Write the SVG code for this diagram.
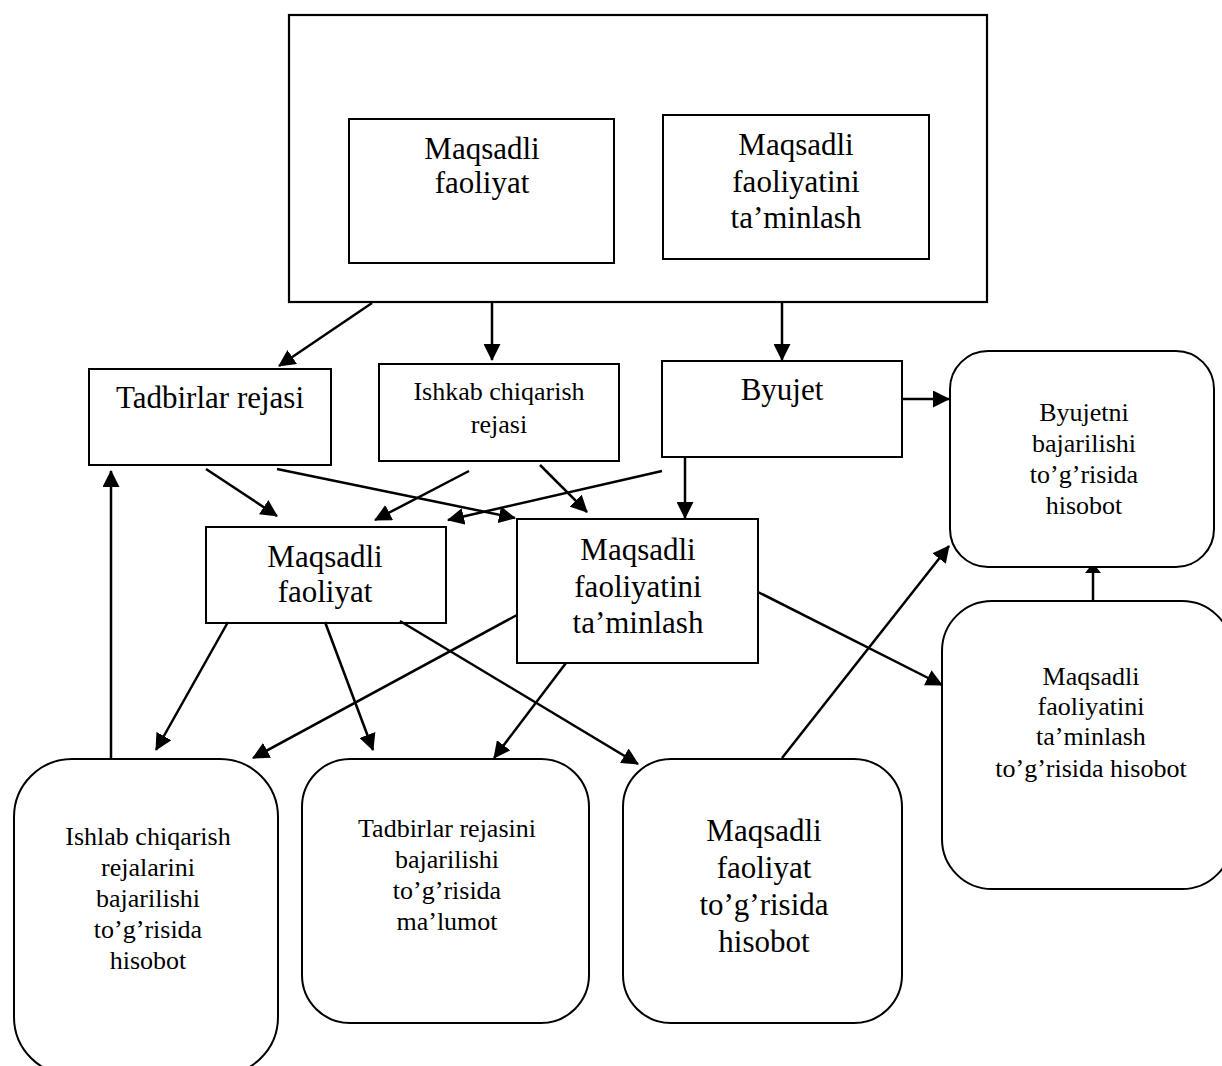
<svg xmlns="http://www.w3.org/2000/svg" width="1222" height="1066" viewBox="0 0 1222 1066">
  <defs>
    <marker id="arrow" viewBox="0 0 17 17" refX="16" refY="8.5" markerWidth="17" markerHeight="17" markerUnits="userSpaceOnUse" orient="auto">
      <path d="M0,0 L17,8.5 L0,17 z" fill="#000"/>
    </marker>
    <marker id="arrow-flat" viewBox="0 0 5 16" refX="5" refY="8" markerWidth="5" markerHeight="16" markerUnits="userSpaceOnUse" orient="auto">
      <path d="M0,0 L5,4 L5,12 L0,16 z" fill="#000"/>
    </marker>
  </defs>
  <style>
    .box { fill: #fff; stroke: #000; stroke-width: 2; }
    .frame { fill: none; stroke: #000; stroke-width: 2.2; }
    .edge { fill: none; stroke: #000; stroke-width: 2.5; marker-end: url(#arrow); }
    .edge-flat { fill: none; stroke: #000; stroke-width: 2.5; marker-end: url(#arrow-flat); }
    text { font-family: "Liberation Serif", "Times New Roman", serif; fill: #000; text-anchor: middle; }
    .lg { font-size: 31px; }
    .sm { font-size: 26px; }
  </style>
  <rect x="0" y="0" width="1222" height="1066" fill="#fff"/>

  <!-- outer frame with the two core activities -->
  <g id="core">
    <rect class="frame" x="289" y="15" width="698" height="287"/>
  </g>
  <g id="core-activity">
    <rect class="box" x="349" y="119" width="265" height="144"/>
    <text class="lg" x="482" y="159">Maqsadli</text>
    <text class="lg" x="482" y="193">faoliyat</text>
  </g>
  <g id="core-support">
    <rect class="box" x="663" y="115" width="266" height="144"/>
    <text class="lg" x="796" y="155">Maqsadli</text>
    <text class="lg" x="796" y="192">faoliyatini</text>
    <text class="lg" x="796" y="228">ta’minlash</text>
  </g>

  <!-- plans -->
  <g id="events-plan">
    <rect class="box" x="89" y="369" width="242" height="96"/>
    <text class="lg" x="210" y="408">Tadbirlar rejasi</text>
  </g>
  <g id="production-plan">
    <rect class="box" x="379" y="364" width="240" height="97"/>
    <text class="sm" x="499" y="400">Ishkab chiqarish</text>
    <text class="sm" x="499" y="433">rejasi</text>
  </g>
  <g id="budget">
    <rect class="box" x="662" y="361" width="240" height="96"/>
    <text class="lg" x="782" y="400">Byujet</text>
  </g>

  <!-- activities -->
  <g id="activity">
    <rect class="box" x="206" y="527" width="240" height="96"/>
    <text class="lg" x="325" y="567">Maqsadli</text>
    <text class="lg" x="325" y="602">faoliyat</text>
  </g>
  <g id="support">
    <rect class="box" x="517" y="519" width="241" height="144"/>
    <text class="lg" x="638" y="560">Maqsadli</text>
    <text class="lg" x="638" y="597">faoliyatini</text>
    <text class="lg" x="638" y="633">ta’minlash</text>
  </g>

  <!-- reports -->
  <g id="budget-report">
    <rect class="box" x="950" y="351" width="264" height="216" rx="38" ry="38"/>
    <text class="sm" x="1084" y="421">Byujetni</text>
    <text class="sm" x="1084" y="452">bajarilishi</text>
    <text class="sm" x="1084" y="483">to’g’risida</text>
    <text class="sm" x="1084" y="514">hisobot</text>
  </g>
  <g id="support-report">
    <rect class="box" x="942" y="601" width="290" height="288" rx="50" ry="50"/>
    <text class="sm" x="1091" y="685">Maqsadli</text>
    <text class="sm" x="1091" y="715">faoliyatini</text>
    <text class="sm" x="1091" y="745">ta’minlash</text>
    <text class="sm" x="1091" y="777">to’g’risida hisobot</text>
  </g>
  <g id="production-report">
    <rect class="box" x="14" y="759" width="264" height="316" rx="58" ry="58"/>
    <text class="sm" x="148" y="845">Ishlab chiqarish</text>
    <text class="sm" x="148" y="876">rejalarini</text>
    <text class="sm" x="148" y="907">bajarilishi</text>
    <text class="sm" x="148" y="938">to’g’risida</text>
    <text class="sm" x="148" y="969">hisobot</text>
  </g>
  <g id="events-report">
    <rect class="box" x="302" y="759" width="287" height="264" rx="48" ry="48"/>
    <text class="sm" x="447" y="837">Tadbirlar rejasini</text>
    <text class="sm" x="447" y="868">bajarilishi</text>
    <text class="sm" x="447" y="899">to’g’risida</text>
    <text class="sm" x="447" y="930">ma’lumot</text>
  </g>
  <g id="activity-report">
    <rect class="box" x="623" y="759" width="279" height="264" rx="48" ry="48"/>
    <text class="lg" x="764" y="841">Maqsadli</text>
    <text class="lg" x="764" y="878">faoliyat</text>
    <text class="lg" x="764" y="915">to’g’risida</text>
    <text class="lg" x="764" y="952">hisobot</text>
  </g>

  <!-- connectors -->
  <g id="connectors">
    <path class="edge" d="M372,303 L279,366"/>
    <path class="edge" d="M492,303 L492,360"/>
    <path class="edge" d="M782,303 L782,360"/>
    <path class="edge" d="M902,399 L949,399"/>
    <path class="edge" d="M206,469 L277,516"/>
    <path class="edge" d="M277,469 L515,518"/>
    <path class="edge" d="M469,471 L375,520"/>
    <path class="edge" d="M540,465 L587,512"/>
    <path class="edge" d="M662,471 L448,520"/>
    <path class="edge" d="M685,457 L685,518"/>
    <path class="edge" d="M228,622 L156,750"/>
    <path class="edge" d="M325,622 L373,750"/>
    <path class="edge" d="M400,621 L638,764"/>
    <path class="edge" d="M517,615 L253,758"/>
    <path class="edge" d="M566,663 L494,758"/>
    <path class="edge" d="M758,592 L942,685"/>
    <path class="edge" d="M782,758 L949,546"/>
    <path class="edge-flat" d="M1093,601 L1093,568"/>
    <path class="edge" d="M111,759 L111,471"/>
  </g>
</svg>
